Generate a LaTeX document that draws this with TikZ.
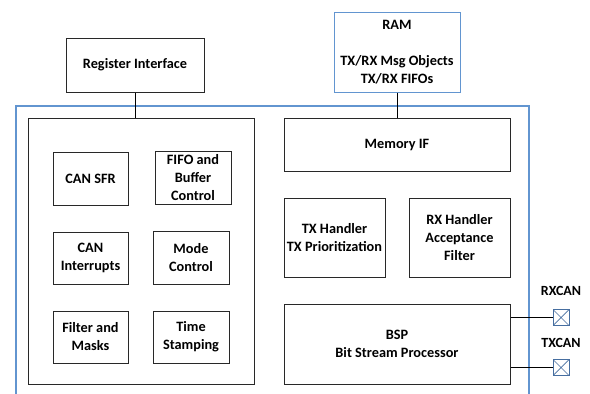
\documentclass[tikz,border=0pt]{standalone}
\usepackage{fontspec}
\setmainfont{Carlito}
\definecolor{frameblue}{RGB}{98,149,208}
\definecolor{pinblue}{RGB}{70,110,160}
\definecolor{boxline}{RGB}{40,40,40}
\tikzset{
  blk/.style={draw=boxline, line width=1pt, fill=white, align=center,
    inner sep=0pt, font=\bfseries\fontsize{14.3}{18}\selectfont},
  pin/.style={draw=pinblue, line width=0.8pt, minimum size=16pt, inner sep=0pt,
    path picture={\draw[pinblue, line width=0.7pt]
      (path picture bounding box.north west) -- (path picture bounding box.south east)
      (path picture bounding box.south west) -- (path picture bounding box.north east);}},
  pinlabel/.style={font=\bfseries\fontsize{14}{16}\selectfont},
  wire/.style={line width=1pt, draw=black},
}
\newcommand{\blkat}[6]{% name, x1, y1, x2, y2, text
  \node[blk, minimum width={(#4-#2)*1pt}, minimum height={(#5-#3)*1pt}]
    (#1) at ({(#2+#4)/2},{(#3+#5)/2}) {#6};}
\begin{document}
\begin{tikzpicture}[x=1pt, y=-1pt]
  \useasboundingbox (0,0) rectangle (590,394);
  % controller frame, open at the bottom
  \draw[frameblue, line width=1.2pt] (16,394) -- (16,106) -- (529,106) -- (529,394);

  % outside blocks
  \blkat{reg}{66}{38}{204}{92}{Register Interface}
  \node[blk, draw=frameblue, minimum width=126pt, minimum height=80pt]
    (ram) at (397,52) {RAM\\[18pt]TX/RX Msg Objects\\TX/RX FIFOs};

  % register block group
  \blkat{regs}{28}{118}{254}{384}{}
  \blkat{sfr}{53}{152}{128}{205}{CAN SFR}
  \blkat{fifo}{155}{151}{231}{204}{FIFO and\\Buffer\\Control}
  \blkat{irq}{53}{232}{128}{284}{CAN\\Interrupts}
  \blkat{mode}{153}{231}{229}{284}{Mode\\Control}
  \blkat{filt}{53}{311}{128}{363}{Filter and\\Masks}
  \blkat{tstamp}{153}{311}{229}{363}{Time\\Stamping}

  % protocol side
  \blkat{memif}{284}{118}{510}{171}{Memory IF}
  \blkat{txh}{284}{198}{385}{277}{TX Handler\\TX Prioritization}
  \blkat{rxh}{409}{198}{510}{277}{RX Handler\\Acceptance\\Filter}
  \blkat{bsp}{284}{304}{510}{384}{BSP\\Bit Stream Processor}

  % CAN pins
  \node[pin] (rx) at (561,317.5) {};
  \node[pin] (tx) at (561,367.5) {};
  \node[pinlabel] (rxl) at (561,291) {RXCAN};
  \node[pinlabel] (txl) at (561,343) {TXCAN};

  % connections
  \draw[wire] (reg.south) -- (reg.south |- regs.north);
  \draw[wire] (ram.south) -- (memif.north);
  \draw[wire] (bsp.east |- rx.west) -- (rx.west);
  \draw[wire] (bsp.east |- tx.west) -- (tx.west);
\end{tikzpicture}
\end{document}
